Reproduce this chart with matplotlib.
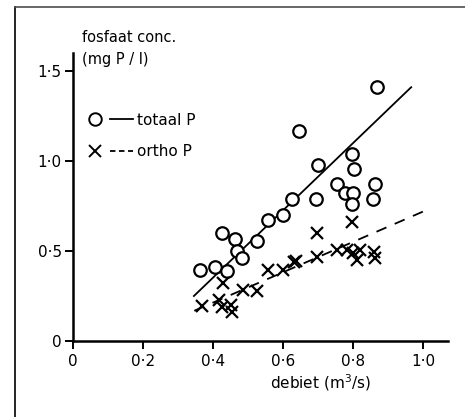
import matplotlib.pyplot as plt
from matplotlib.lines import Line2D
from matplotlib.legend_handler import HandlerTuple

# totaal P (open circles)
x_totaal = [0.362, 0.404, 0.439, 0.425, 0.462, 0.469, 0.483, 0.525, 0.555, 0.600, 0.625,
            0.645, 0.698, 0.692, 0.754, 0.777, 0.800, 0.797, 0.797, 0.803, 0.862, 0.857, 0.866]
y_totaal = [0.392, 0.412, 0.388, 0.600, 0.567, 0.500, 0.462, 0.558, 0.675, 0.700, 0.790,
            1.165, 0.978, 0.790, 0.870, 0.820, 0.820, 0.761, 1.039, 0.957, 0.870, 0.790, 1.413]

# ortho P (crosses)
x_ortho = [0.368, 0.418, 0.427, 0.425, 0.450, 0.455, 0.485, 0.525, 0.555, 0.600, 0.630,
           0.636, 0.696, 0.696, 0.753, 0.782, 0.796, 0.800, 0.810, 0.820, 0.858, 0.863]
y_ortho = [0.194, 0.228, 0.320, 0.190, 0.200, 0.163, 0.283, 0.280, 0.394, 0.394, 0.440,
           0.445, 0.598, 0.468, 0.506, 0.506, 0.663, 0.487, 0.452, 0.506, 0.496, 0.459]

# fitted lines (end points)
fit_totaal_x = [0.345, 0.965]
fit_totaal_y = [0.25, 1.41]
fit_ortho_x = [0.346, 1.02]
fit_ortho_y = [0.168, 0.737]

xticks = [0, 0.2, 0.4, 0.6, 0.8, 1.0]
xticklabels = ['0', '0·2', '0·4', '0·6', '0·8', '1·0']
yticks = [0, 0.5, 1.0, 1.5]
yticklabels = ['0', '0·5', '1·0', '1·5']

plt.rcParams['font.family'] = ['DejaVu Sans']
fig = plt.figure(figsize=(4.65, 4.17), dpi=100)
ax = fig.add_axes([73 / 465, 76 / 417, 375 / 465, 288 / 417])

ax.plot(fit_totaal_x, fit_totaal_y, color='k', lw=1.3, ls='-')
ax.plot(fit_ortho_x, fit_ortho_y, color='k', lw=1.3, ls=(0, (6, 5)))
ax.plot(x_totaal, y_totaal, ls='none', marker='o', ms=9, mfc='white', mec='k', mew=1.6)
ax.plot(x_ortho, y_ortho, ls='none', marker='x', ms=8, mec='k', mew=1.6)

ax.set_xlim(0, 1.07)
ax.set_ylim(0, 1.6)
ax.set_xticks(xticks)
ax.set_xticklabels(xticklabels, fontsize=11)
ax.set_yticks(yticks)
ax.set_yticklabels(yticklabels, fontsize=11)
ax.tick_params(direction='out', length=6, width=1.4, pad=2)
ax.tick_params(axis='x', pad=3.5)
for s in ['top', 'right']:
    ax.spines[s].set_visible(False)
for s in ['left', 'bottom']:
    ax.spines[s].set_linewidth(1.8)

ax.set_xlabel('debiet (m$^3$/s)', fontsize=11)
ax.xaxis.set_label_coords(0.66, -0.11)
ax.text(0.024, 1.08, 'fosfaat conc.\n(mg P / l)', transform=ax.transAxes,
        ha='left', va='top', fontsize=10.5, linespacing=1.6)

h_tot = (Line2D([], [], ls='none', marker='o', ms=9, mfc='white', mec='k', mew=1.4),
         Line2D([], [], color='k', lw=1.3))
h_orth = (Line2D([], [], ls='none', marker='x', ms=8, mec='k', mew=1.4),
          Line2D([], [], color='k', lw=1.3, ls=(0, (3, 2))))
ax.legend([h_tot, h_orth], ['totaal P', 'ortho P'],
          handler_map={tuple: HandlerTuple(ndivide=None, pad=0.3)},
          loc='upper left', bbox_to_anchor=(0.0, 0.83), frameon=False,
          fontsize=11, handlelength=3.2, handletextpad=0.3, labelspacing=1.1,
          borderaxespad=0.3)

# frame lines of the scanned page
fig.add_artist(Line2D([15 / 465, 15 / 465], [0, 1 - 7 / 417], color='k', lw=1.2))
fig.add_artist(Line2D([15 / 465, 1], [1 - 7 / 417, 1 - 7 / 417], color='0.3', lw=1.2))

fig.savefig('out.png', dpi=100)
